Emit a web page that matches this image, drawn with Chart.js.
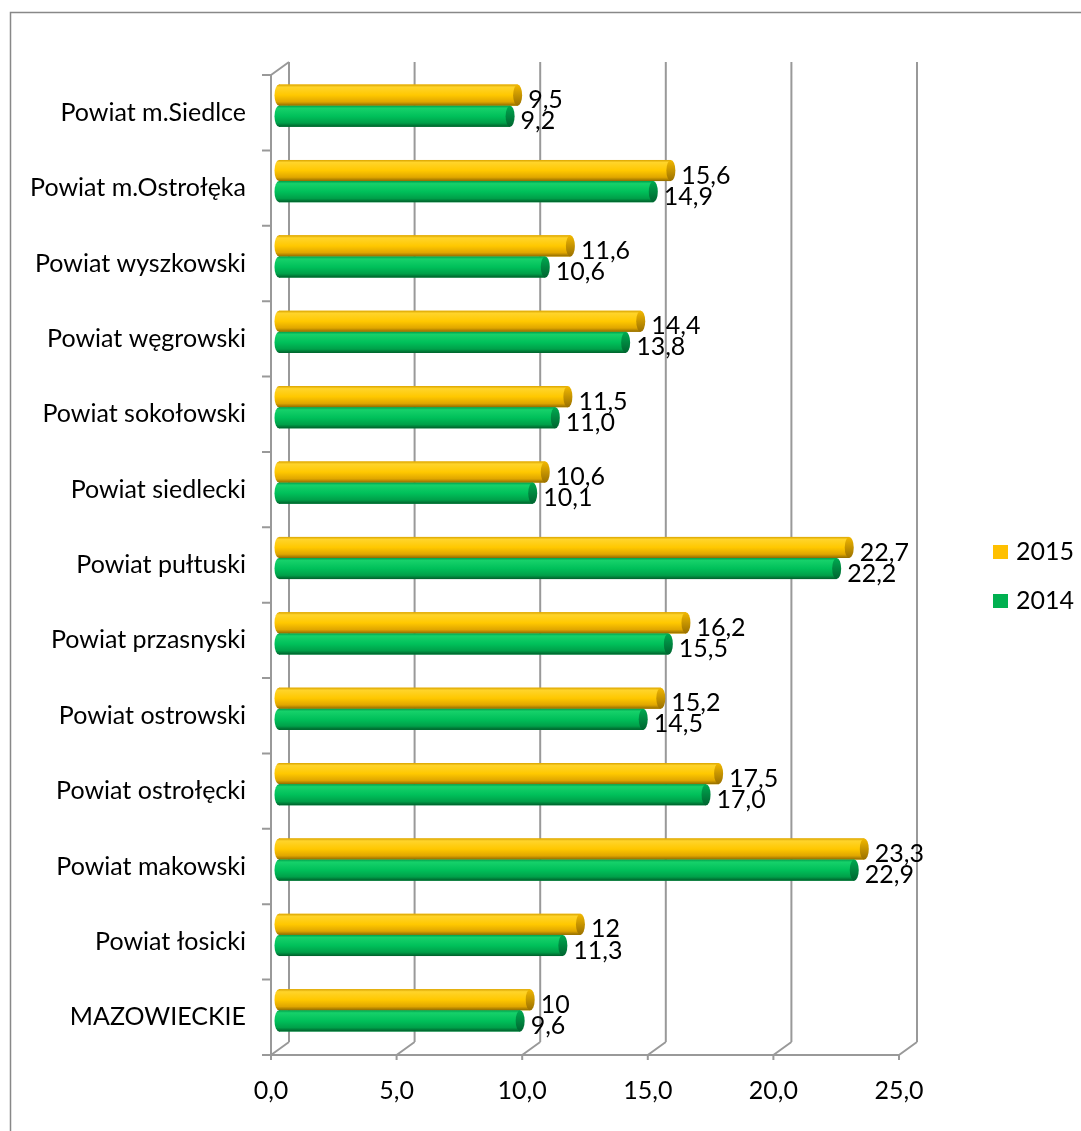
<!DOCTYPE html>
<html>
<head>
<meta charset="utf-8">
<script src="https://cdn.jsdelivr.net/npm/chart.js@4.4.0/dist/chart.umd.min.js"></script>
<style>
  html, body { margin: 0; padding: 0; background: #fff; }
  #wrap { width: 1081px; height: 1131px; }
</style>
</head>
<body>
<div id="wrap"><canvas id="chart"></canvas></div>
<script>
const powiaty = [
    'Powiat m.Siedlce', 'Powiat m.Ostrołęka', 'Powiat wyszkowski', 'Powiat węgrowski',
    'Powiat sokołowski', 'Powiat siedlecki', 'Powiat pułtuski', 'Powiat przasnyski',
    'Powiat ostrowski', 'Powiat ostrołęcki', 'Powiat makowski', 'Powiat łosicki', 'MAZOWIECKIE'
];
const values2015 = [9.5, 15.6, 11.6, 14.4, 11.5, 10.6, 22.7, 16.2, 15.2, 17.5, 23.3, 12, 10];
const values2014 = [9.2, 14.9, 10.6, 13.8, 11.0, 10.1, 22.2, 15.5, 14.5, 17.0, 22.9, 11.3, 9.6];
const labels2015 = ['9,5', '15,6', '11,6', '14,4', '11,5', '10,6', '22,7', '16,2', '15,2', '17,5', '23,3', '12', '10'];
const labels2014 = ['9,2', '14,9', '10,6', '13,8', '11,0', '10,1', '22,2', '15,5', '14,5', '17,0', '22,9', '11,3', '9,6'];
const xTicks = [0, 5, 10, 15, 20, 25];

const FONT = 'Lato';
const FONT_SIZE = 25;
const DEPTH_X = 18, DEPTH_Y = -13;   // back wall offset
const BAR_DX = 8, BAR_DY = -7;       // bars sit half way in depth

const shades = {
    '2015': {
        body: [[0, '#d9a300'], [0.12, '#ffd42a'], [0.5, '#ffc800'], [0.82, '#e0a600'], [1, '#8f6a00']],
        cap: [[0, '#f2b800'], [1, '#9a7000']]
    },
    '2014': {
        body: [[0, '#00a04c'], [0.12, '#16d16a'], [0.5, '#00c05a'], [0.82, '#00a049'], [1, '#005e2a']],
        cap: [[0, '#00aa50'], [1, '#006430']]
    }
};

function grad(ctx, top, h, stops) {
    const g = ctx.createLinearGradient(0, top, 0, top + h);
    stops.forEach(s => g.addColorStop(s[0], s[1]));
    return g;
}

const scene = {
    id: 'scene',
    beforeDraw(chart) {
        const ctx = chart.ctx;
        ctx.save();
        ctx.strokeStyle = '#888888';
        ctx.lineWidth = 1.5;
        ctx.strokeRect(10.5, 12.5, 1200, 1200);
        ctx.restore();
    },
    beforeDatasetsDraw(chart) {
        const ctx = chart.ctx;
        const ca = chart.chartArea;
        const xs = chart.scales.x, ys = chart.scales.y;
        ctx.save();
        ctx.strokeStyle = '#999999';
        ctx.lineWidth = 2;
        ctx.beginPath();
        xTicks.forEach(v => {
            const fx = xs.getPixelForValue(v);
            // back wall gridline
            ctx.moveTo(fx + DEPTH_X, ca.top + DEPTH_Y);
            ctx.lineTo(fx + DEPTH_X, ca.bottom + DEPTH_Y);
            // floor diagonal
            ctx.moveTo(fx, ca.bottom);
            ctx.lineTo(fx + DEPTH_X, ca.bottom + DEPTH_Y);
            // tick mark
            ctx.moveTo(fx, ca.bottom);
            ctx.lineTo(fx, ca.bottom + 5);
        });
        // front axes
        ctx.moveTo(ca.left, ca.bottom);
        ctx.lineTo(ca.right, ca.bottom);
        ctx.moveTo(ca.left, ca.top);
        ctx.lineTo(ca.left, ca.bottom);
        ctx.moveTo(ca.left, ca.top);
        ctx.lineTo(ca.left + DEPTH_X, ca.top + DEPTH_Y);
        for (let i = 0; i <= powiaty.length; i++) {
            const yy = ys.getPixelForValue(i - 0.5);
            ctx.moveTo(ca.left - 9, yy);
            ctx.lineTo(ca.left, yy);
        }
        ctx.stroke();
        ctx.restore();

        ctx.save();
        ctx.translate(BAR_DX, BAR_DY);
    },
    afterDatasetsDraw(chart) {
        const ctx = chart.ctx;
        const rx = 4.5;
        const txt = [labels2015, labels2014];
        chart.data.datasets.forEach((ds, di) => {
            const sh = shades[ds.label];
            chart.getDatasetMeta(di).data.forEach(el => {
                const p = el.getProps(['x', 'y', 'base', 'height'], true);
                const top = p.y - p.height / 2, h = p.height;
                const body = grad(ctx, top, h, sh.body);
                ctx.fillStyle = body;
                ctx.beginPath();
                ctx.ellipse(p.base, p.y, rx, h / 2, 0, 0, Math.PI * 2);
                ctx.fill();
                ctx.fillRect(p.base, top, p.x - p.base, h);
                ctx.fillStyle = grad(ctx, top, h, sh.cap);
                ctx.beginPath();
                ctx.ellipse(p.x, p.y, rx, h / 2, 0, 0, Math.PI * 2);
                ctx.fill();
            });
        });
        ctx.fillStyle = '#000';
        ctx.font = FONT_SIZE + 'px ' + FONT;
        ctx.textAlign = 'left';
        ctx.textBaseline = 'middle';
        chart.data.datasets.forEach((ds, di) => {
            chart.getDatasetMeta(di).data.forEach((el, i) => {
                const p = el.getProps(['x', 'y'], true);
                ctx.fillText(txt[di][i], p.x + rx + 6, p.y + 5);
            });
        });
        ctx.restore();
    },
    afterDraw(chart) {
        const ctx = chart.ctx;
        ctx.save();
        ctx.font = FONT_SIZE + 'px ' + FONT;
        ctx.textAlign = 'left';
        ctx.textBaseline = 'middle';
        chart.data.datasets.forEach((ds, di) => {
            const cy = 552 + di * 49;
            ctx.fillStyle = ds.backgroundColor;
            ctx.fillRect(993, cy - 7, 15, 14);
            ctx.fillStyle = '#000';
            ctx.fillText(ds.label, 1016, cy);
        });
        ctx.restore();
    }
};

new Chart(document.getElementById('chart'), {
    type: 'bar',
    data: {
        labels: powiaty,
        datasets: [
            { label: '2015', data: values2015, backgroundColor: '#ffc000', borderWidth: 0,
              categoryPercentage: 0.56, barPercentage: 1 },
            { label: '2014', data: values2014, backgroundColor: '#00b050', borderWidth: 0,
              categoryPercentage: 0.56, barPercentage: 1 }
        ]
    },
    options: {
        indexAxis: 'y',
        responsive: true,
        maintainAspectRatio: false,
        animation: false,
        devicePixelRatio: 1,
        layout: { padding: { top: 75, right: 182, bottom: 0, left: 0 } },
        plugins: {
            legend: { display: false },
            tooltip: { enabled: false }
        },
        scales: {
            x: {
                min: 0,
                max: 25,
                afterFit: s => { s.height = 76; },
                afterBuildTicks: s => { s.ticks = xTicks.map(v => ({ value: v })); },
                ticks: {
                    callback: v => v.toFixed(1).replace('.', ','),
                    color: '#000',
                    font: { family: FONT, size: FONT_SIZE },
                    padding: 21,
                    maxRotation: 0
                },
                grid: { display: false, drawTicks: false },
                border: { display: false }
            },
            y: {
                afterFit: s => { s.width = 271; },
                ticks: {
                    color: '#000',
                    font: { family: FONT, size: FONT_SIZE },
                    padding: 25
                },
                grid: { display: false, drawTicks: false },
                border: { display: false }
            }
        }
    },
    plugins: [scene]
});
</script>
</body>
</html>
